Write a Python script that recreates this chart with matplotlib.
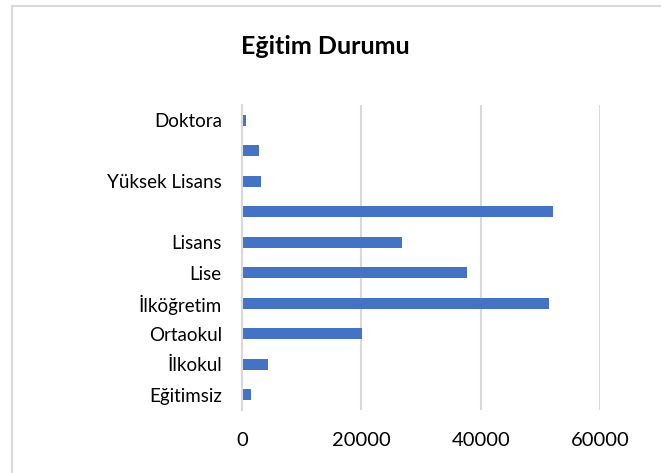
import matplotlib
matplotlib.use("Agg")
import matplotlib.pyplot as plt
from matplotlib.patches import Rectangle

categories = ["Eğitimsiz", "İlkokul", "Ortaokul", "İlköğretim", "Lise", "Lisans",
              "", "Yüksek Lisans", "", "Doktora"]
values = [1560, 4360, 20050, 51400, 37770, 26870, 52180, 3190, 2850, 740]
xticks = [0, 20000, 40000, 60000]

W, H = 661, 473
fig = plt.figure(figsize=(W / 100, H / 100), dpi=100)
plt.rcParams['font.family'] = ['Lato', 'DejaVu Sans']

left, right, top, bottom = 242, 600, 105, 410
ax = fig.add_axes([left / W, 1 - bottom / H, (right - left) / W, (bottom - top) / H])

ypos = list(range(len(categories)))
ax.barh(ypos, values, height=0.36, color="#4472C4", zorder=3)
ax.set_ylim(-0.5, len(categories) - 0.5)
ax.set_xlim(0, 60000)
ax.set_xticks(xticks)
ax.set_xticklabels([str(t) for t in xticks], fontsize=14.5, color="#000000")
ax.set_yticks(ypos)
ax.set_yticklabels(categories, fontsize=13.5, color="#000000")
ax.tick_params(axis="both", length=0)
ax.tick_params(axis="y", pad=14.5)
ax.tick_params(axis="x", pad=16)
ax.grid(axis="x", color="#d9d9d9", linewidth=1.5, zorder=0)
for s in ["top", "right", "bottom"]:
    ax.spines[s].set_visible(False)
ax.spines["left"].set_color("#d9d9d9")
ax.spines["left"].set_linewidth(1.5)
ax.spines["left"].set_zorder(4)

fig.text(325 / W, 1 - 46 / H, "Eğitim Durumu", ha="center", va="center",
         fontsize=18, fontweight="bold", color="#000000")

border = Rectangle((11.5 / W, -0.1), 1.2, 1 - 6.5 / H + 0.1, transform=fig.transFigure,
                   fill=False, edgecolor="#d9d9d9", linewidth=1.5, clip_on=False)
fig.add_artist(border)

fig.savefig("out.png", dpi=100)
